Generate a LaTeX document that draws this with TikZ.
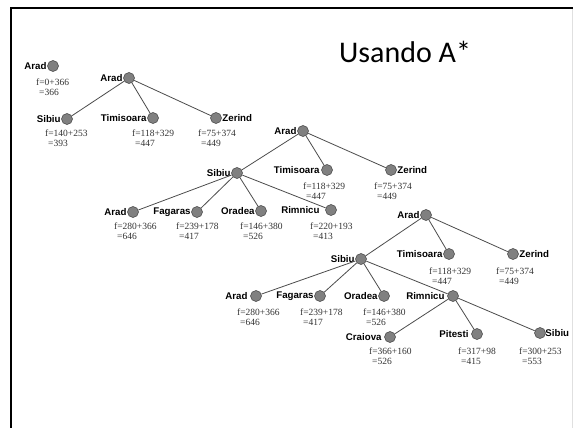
\documentclass[tikz,border=0pt]{standalone}
\usepackage{fontspec}
\setmainfont{Liberation Serif}
\newfontfamily\lblfont{Liberation Sans}
\newfontfamily\ttlfont{Carlito}
\begin{document}
\begin{tikzpicture}[x=1pt,y=-1pt,
  st/.style={circle,fill=black!50,draw=black!75,line width=0.5pt,minimum size=11pt,inner sep=0pt,
    label distance=1pt},
  lab/.style={font=\lblfont\bfseries\fontsize{9.7}{10}\selectfont,inner sep=0.5pt},
  fv/.style={anchor=north west,inner sep=0pt,align=left,font=\fontsize{9.5}{10}\selectfont,text=black!80},
  edge/.style={draw=black!70,line width=0.8pt}]
\useasboundingbox (0,0) rectangle (573,428);
\fill[white] (0,0) rectangle (573,428);
% frame
\draw[line width=2.4pt,black] (11,428) -- (11,8) -- (573,8);
\draw[black!12,line width=0.6pt] (572,9) -- (572,428);
% title
\node[font=\ttlfont\fontsize{30}{32}\selectfont,anchor=base west,inner sep=0pt] (title) at (339,63) {Usando A*};
% Tree 1
\node[st,label={[lab]left:Arad}] (a1) at (53,66) {};
\node[fv] (fa1) at (36,78.5) {f=0+366\\\hspace*{3pt}=366};
% Tree 2
\node[st,label={[lab]left:Arad}] (b0) at (129,78) {};
\node[st,label={[lab]left:Sibiu}] (b1) at (67,119) {};
\node[st,label={[lab]left:Timisoara}] (b2) at (153,118) {};
\node[st,label={[lab]right:Zerind}] (b3) at (216,118) {};
\node[fv] (fb1) at (45,129.5) {f=140+253\\\hspace*{3pt}=393};
\node[fv] (fb2) at (132,129.5) {f=118+329\\\hspace*{3pt}=447};
\node[fv] (fb3) at (198,129.5) {f=75+374\\\hspace*{3pt}=449};
% Tree 3
\node[st,label={[lab]left:Arad}] (c0) at (303,131) {};
\node[st,label={[lab]left:Sibiu}] (c1) at (237,173) {};
\node[st,label={[lab,xshift=-1pt]left:Timisoara}] (c2) at (327,170) {};
\node[st,label={[lab]right:Zerind}] (c3) at (391,170) {};
\node[fv] (fc2) at (303,182.5) {f=118+329\\\hspace*{3pt}=447};
\node[fv] (fc3) at (374,182.5) {f=75+374\\\hspace*{3pt}=449};
\node[st,label={[lab]left:Arad}] (c4) at (133,212) {};
\node[st,label={[lab]left:Fagaras}] (c5) at (197,212) {};
\node[st,label={[lab]left:Oradea}] (c6) at (261,211) {};
\node[st,label={[lab,xshift=-5pt]left:Rimnicu}] (c7) at (331,210) {};
\node[fv] (fc4) at (114,222.5) {f=280+366\\\hspace*{3pt}=646};
\node[fv] (fc5) at (176,222.5) {f=239+178\\\hspace*{3pt}=417};
\node[fv] (fc6) at (240,222.5) {f=146+380\\\hspace*{3pt}=526};
\node[fv] (fc7) at (310,222.5) {f=220+193\\\hspace*{3pt}=413};
% Tree 4
\node[st,label={[lab]left:Arad}] (d0) at (426,215) {};
\node[st,label={[lab]left:Sibiu}] (d1) at (361,259) {};
\node[st,label={[lab]left:Timisoara}] (d2) at (449,254) {};
\node[st,label={[lab]right:Zerind}] (d3) at (513,254) {};
\node[fv] (fd2) at (429,267.5) {f=118+329\\\hspace*{3pt}=447};
\node[fv] (fd3) at (496,267.5) {f=75+374\\\hspace*{3pt}=449};
\node[st,label={[lab,xshift=-2pt]left:Arad}] (d4) at (256,296) {};
\node[st,label={[lab]left:Fagaras}] (d5) at (320,296) {};
\node[st,label={[lab]left:Oradea}] (d6) at (384,296) {};
\node[st,label={[lab,xshift=-2pt]left:Rimnicu}] (d7) at (453,296) {};
\node[fv] (fd4) at (237,308.5) {f=280+366\\\hspace*{3pt}=646};
\node[fv] (fd5) at (300,308.5) {f=239+178\\\hspace*{3pt}=417};
\node[fv] (fd6) at (363,308.5) {f=146+380\\\hspace*{3pt}=526};
\node[st,label={[lab,xshift=-2pt]left:Craiova}] (d8) at (390,337) {};
\node[st,label={[lab,xshift=-2pt]left:Pitesti}] (d9) at (477,334) {};
\node[st,label={[lab,xshift=-1pt]right:Sibiu}] (d10) at (540,333) {};
\node[fv] (fd8) at (369,347.5) {f=366+160\\\hspace*{3pt}=526};
\node[fv] (fd9) at (458,347.5) {f=317+98\\\hspace*{3pt}=415};
\node[fv] (fd10) at (519,347.5) {f=300+253\\\hspace*{3pt}=553};
% edges
\foreach \p/\c in {b0/b1,b0/b2,b0/b3,c0/c1,c0/c2,c0/c3,c1/c4,c1/c5,c1/c6,c1/c7,
  d0/d1,d0/d2,d0/d3,d1/d4,d1/d5,d1/d6,d1/d7,d7/d8,d7/d9,d7/d10}
  \draw[edge] (\p) -- (\c);
\end{tikzpicture}
\end{document}
